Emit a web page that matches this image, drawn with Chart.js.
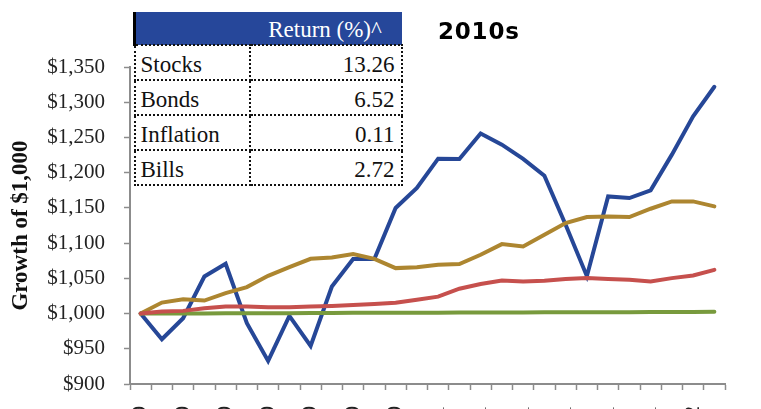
<!DOCTYPE html>
<html>
<head>
<meta charset="utf-8">
<script src="https://cdn.jsdelivr.net/npm/chart.js@4.4.0/dist/chart.umd.min.js"></script>
<style>
  body { margin: 0; overflow: hidden; background: #fff; }
  #wrap { position: relative; width: 761px; height: 409px; }
  #title {
    position: absolute; left: 438px; top: 20px;
    font: bold 23px "DejaVu Sans"; line-height: 23px; letter-spacing: 0.8px; color: #000;
  }
  #ret {
    position: absolute; left: 133px; top: 12px;
    border-collapse: collapse; background: #fff;
    font: 23px "Liberation Serif"; color: #111;
  }
  #ret td { padding: 0 6px 3px 5px; line-height: 23px; vertical-align: bottom; box-sizing: border-box; }
  #ret tr.head td { background: #26479a; color: #fff; height: 33px; }
  #ret tr.head td.first { border-left: 3px solid #000; }
  #ret tr.row td { height: 35px; border: 2px dotted #111; }
  #ret td.val { text-align: right; }
  #ret tr.head td.val { text-align: center; }
</style>
</head>
<body>
<div id="wrap">
  <canvas id="chart" width="761" height="409"></canvas>
  <div id="title">2010s</div>
  <table id="ret"></table>
</div>
<script>
// month end labels, Dec-09 .. Mar-12
const months = ['Dec-09','Jan-10','Feb-10','Mar-10','Apr-10','May-10','Jun-10','Jul-10','Aug-10','Sep-10',
  'Oct-10','Nov-10','Dec-10','Jan-11','Feb-11','Mar-11','Apr-11','May-11','Jun-11','Jul-11','Aug-11',
  'Sep-11','Oct-11','Nov-11','Dec-11','Jan-12','Feb-12','Mar-12'];

const stocks = [1000, 963.5, 993.4, 1052.6, 1070.6, 986.3, 932.7, 996.7, 954.0, 1038.4, 1077.3, 1077.3, 1149.8, 1178.2,
  1219.9, 1219.5, 1255.5, 1239.8, 1219.5, 1195.7, 1126.0, 1053.1, 1166.3, 1164.0, 1174.9, 1225.6, 1280.1, 1321.9];
const bonds = [1000, 1015.6, 1020.4, 1018.4, 1029.0, 1037.5, 1053.6, 1065.9, 1077.7, 1079.6, 1084.4, 1077.7, 1064.5, 1065.9,
  1069.2, 1070.2, 1083.4, 1098.6, 1095.2, 1111.9, 1128.5, 1137.0, 1137.9, 1137.0, 1148.8, 1159.2, 1159.2, 1152.1];
const bills = [1000, 1002.8, 1003.8, 1007.6, 1009.9, 1009.9, 1009.1, 1009.1, 1010.0, 1010.9, 1012.3, 1013.7, 1015.2, 1019.5,
  1024.0, 1035.3, 1042.0, 1046.9, 1045.5, 1046.5, 1049.0, 1050.3, 1048.9, 1047.9, 1045.5, 1050.3, 1054.0, 1062.1];
const inflation = [1000, 1000.0, 1000.1, 1000.2, 1000.3, 1000.4, 1000.5, 1000.6, 1000.8, 1000.9, 1001.0, 1001.1, 1001.2, 1001.2,
  1001.3, 1001.4, 1001.5, 1001.6, 1001.6, 1001.7, 1001.8, 1001.9, 1002.0, 1002.0, 1002.1, 1002.2, 1002.3, 1002.4];

// return table
const tableRows = ['Stocks', 'Bonds', 'Inflation', 'Bills'];
const tableVals = ['13.26', '6.52', '0.11', '2.72'];
const tableHead = 'Return (%)^';

const colWidths = [115, 152];
let html = '<tr class="head"><td class="first" style="width:' + colWidths[0] + 'px"></td><td class="val" style="width:' + colWidths[1] + 'px">' + tableHead + '</td></tr>';
tableRows.forEach((r, i) => {
  html += '<tr class="row"><td>' + r + '</td><td class="val">' + tableVals[i] + '</td></tr>';
});
document.getElementById('ret').innerHTML = html;

const gray = '#8c8c8c';
const tickFont = { family: 'Liberation Serif', size: 21 };

const data = {
  labels: months,
  datasets: [
    { label: 'Bills', data: bills, borderColor: '#c6504d', order: 1 },
    { label: 'Inflation', data: inflation, borderColor: '#789a3d', order: 2 },
    { label: 'Bonds', data: bonds, borderColor: '#ad8630', order: 3 },
    { label: 'Stocks', data: stocks, borderColor: '#264797', order: 4 }
  ]
};

const config = {
  type: 'line',
  data,
  options: {
    responsive: false,
    animation: false,
    layout: { padding: { top: 67, right: 36, left: 0, bottom: 0 } },
    elements: {
      line: { borderWidth: 4, tension: 0, borderCapStyle: 'round' },
      point: { radius: 0 }
    },
    plugins: { legend: { display: false }, tooltip: { enabled: false } },
    scales: {
      x: {
        offset: true,
        grid: { offset: true, drawOnChartArea: false, tickLength: 6, tickWidth: 1.5, tickColor: gray },
        border: { color: gray, width: 2 },
        ticks: {
          autoSkip: false, minRotation: 90, maxRotation: 90, padding: 16,
          font: tickFont, color: '#222',
          callback: function (v, i) { return i % 2 === 0 ? this.getLabelForValue(v) : ''; }
        },
        // labels run off the bottom edge like in the original
        afterFit: (s) => { s.height = 25; }
      },
      y: {
        min: 900, max: 1350,
        grid: { drawOnChartArea: false, tickLength: 6, tickWidth: 1.5, tickColor: gray },
        border: { color: gray, width: 2 },
        ticks: {
          stepSize: 50, padding: 19, font: tickFont, color: '#222',
          callback: (v) => '$' + v.toLocaleString('en-US')
        },
        title: {
          display: true, text: 'Growth of $1,000', color: '#111',
          font: { family: 'Liberation Serif', size: 23, weight: 'bold' },
          padding: { top: 7, bottom: 0 }
        },
        afterFit: (s) => { s.width = 130; s.paddingTop = 0; s.paddingBottom = 0; }
      }
    }
  }
};

var chart = document.getElementById('chart');
var myChart = new Chart(chart, config);
</script>
</body>
</html>
